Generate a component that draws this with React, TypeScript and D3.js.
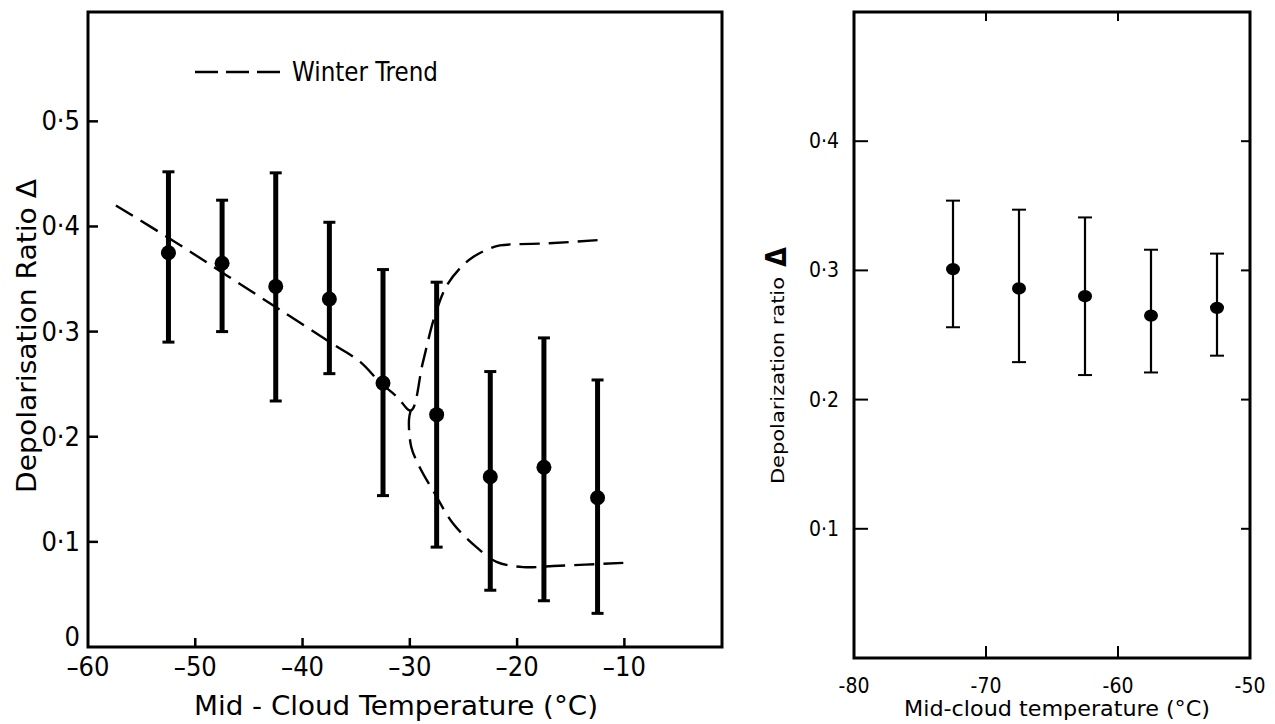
import React from 'react';
import * as d3 from 'd3';

// ---------- Left panel data ----------
const leftTemps = [-52.5, -47.5, -42.5, -37.5, -32.5, -27.5, -22.5, -17.5, -12.5];
const leftMean = [0.375, 0.365, 0.343, 0.331, 0.251, 0.221, 0.162, 0.171, 0.142];
const leftUpper = [0.452, 0.425, 0.451, 0.404, 0.359, 0.347, 0.262, 0.294, 0.254];
const leftLower = [0.290, 0.300, 0.234, 0.260, 0.144, 0.095, 0.054, 0.044, 0.032];

// Winter trend (dashed) – upper branch through the cusp
const trendUpperX = [-57.4, -52, -47, -42, -37, -34.6, -32.8, -31.2, -29.9, -28.8, -27.7, -26.6, -25.35, -24.1, -22.55, -21.6, -17, -12.5];
const trendUpperY = [0.420, 0.386, 0.353, 0.320, 0.287, 0.271, 0.252, 0.238, 0.225, 0.270, 0.314, 0.343, 0.360, 0.371, 0.379, 0.382, 0.384, 0.387];
// Winter trend – lower branch from the cusp
const trendLowerX = [-29.92, -30.08, -29.86, -29.08, -27.68, -25.97, -23.79, -21.92, -19.43, -16.63, -10.1];
const trendLowerY = [0.225, 0.216, 0.190, 0.171, 0.146, 0.1175, 0.095, 0.081, 0.076, 0.077, 0.080];

const leftXTicks = [-60, -50, -40, -30, -20, -10];
const leftYTicks = [0, 0.1, 0.2, 0.3, 0.4, 0.5];

// ---------- Right panel data ----------
const rightTemps = [-72.5, -67.5, -62.5, -57.5, -52.5];
const rightMean = [0.301, 0.286, 0.280, 0.265, 0.271];
const rightUpper = [0.354, 0.347, 0.341, 0.316, 0.313];
const rightLower = [0.256, 0.229, 0.219, 0.221, 0.234];

const rightXTicks = [-80, -70, -60, -50];
const rightYTicks = [0.1, 0.2, 0.3, 0.4];

const FONT = "'DejaVu Sans Condensed', 'DejaVu Sans', sans-serif";

const fmtDot = (v: number) => (v === 0 ? '0' : v.toFixed(1).replace('.', '\u00B7'));

export default function App() {
  // Left scales
  const lx = d3.scaleLinear().domain([-60, -0.9]).range([88, 722]);
  const ly = d3.scaleLinear().domain([0, 0.604]).range([647, 12]);
  // Right scales
  const rx = d3.scaleLinear().domain([-80, -50]).range([854, 1250]);
  const ry = d3.scaleLinear().domain([0, 0.5]).range([658, 12]);

  const line = d3
    .line<[number, number]>()
    .x((d) => lx(d[0]))
    .y((d) => ly(d[1]))
    .curve(d3.curveCatmullRom.alpha(0.5));

  const upperPts = trendUpperX.map((x, i) => [x, trendUpperY[i]] as [number, number]);
  const lowerPts = trendLowerX.map((x, i) => [x, trendLowerY[i]] as [number, number]);

  const [lx0, lx1] = lx.range();
  const [ly0, ly1] = ly.range();
  const [rx0, rx1] = rx.range();
  const [ry0, ry1] = ry.range();

  return (
    <svg
      width={1275}
      height={724}
      style={{ position: 'absolute', left: 0, top: 0, background: '#fff' }}
      fontFamily={FONT}
    >
      <rect x={0} y={0} width={1275} height={724} fill="#fff" />

      {/* ================= LEFT PANEL ================= */}
      <rect x={lx0} y={ly1} width={lx1 - lx0} height={ly0 - ly1} fill="none" stroke="#000" strokeWidth={3} />

      {/* y ticks */}
      {leftYTicks.map((t) => (
        <g key={'lyt' + t}>
          {t > 0 && <line x1={lx0} x2={lx0 + 10} y1={ly(t)} y2={ly(t)} stroke="#000" strokeWidth={2.5} />}
          <text x={80} y={t === 0 ? ly(t) - 1 : ly(t) + 9} fontSize={27} textAnchor="end" fill="#000">
            {fmtDot(t)}
          </text>
        </g>
      ))}
      {/* x ticks */}
      {leftXTicks.map((t) => (
        <g key={'lxt' + t}>
          {t > -60 && <line x1={lx(t)} x2={lx(t)} y1={ly0} y2={ly0 - 9} stroke="#000" strokeWidth={2.5} />}
          <text x={lx(t)} y={676} fontSize={27} textAnchor="middle" fill="#000">
            {'\u2013' + Math.abs(t)}
          </text>
        </g>
      ))}

      {/* axis titles */}
      <text x={396} y={715} fontSize={26} textAnchor="middle" textLength={404} lengthAdjust="spacingAndGlyphs" fill="#000">
        Mid - Cloud  Temperature (°C)
      </text>
      <text
        transform={`translate(36,336) rotate(-90)`}
        fontSize={26}
        textAnchor="middle"
        textLength={314}
        lengthAdjust="spacingAndGlyphs"
        fill="#000"
      >
        Depolarisation  Ratio  Δ
      </text>

      {/* legend */}
      <line x1={195} x2={281} y1={72} y2={72} stroke="#000" strokeWidth={2.5} strokeDasharray="23 8" />
      <text x={292} y={81} fontSize={27} textLength={146} lengthAdjust="spacingAndGlyphs" fill="#000">
        Winter  Trend
      </text>

      {/* winter trend curves */}
      <path d={line(upperPts) || ''} fill="none" stroke="#000" strokeWidth={2.4} strokeDasharray="20 9" />
      <path d={line(lowerPts) || ''} fill="none" stroke="#000" strokeWidth={2.4} strokeDasharray="20 9" />

      {/* error bars + points */}
      {leftTemps.map((t, i) => (
        <g key={'lp' + i}>
          <line x1={lx(t)} x2={lx(t)} y1={ly(leftUpper[i])} y2={ly(leftLower[i])} stroke="#000" strokeWidth={5} />
          <line x1={lx(t) - 6} x2={lx(t) + 6} y1={ly(leftUpper[i])} y2={ly(leftUpper[i])} stroke="#000" strokeWidth={3} />
          <line x1={lx(t) - 6} x2={lx(t) + 6} y1={ly(leftLower[i])} y2={ly(leftLower[i])} stroke="#000" strokeWidth={3} />
          <circle cx={lx(t)} cy={ly(leftMean[i])} r={7.5} fill="#000" />
        </g>
      ))}

      {/* ================= RIGHT PANEL ================= */}
      <rect x={rx0} y={ry1} width={rx1 - rx0} height={ry0 - ry1} fill="none" stroke="#000" strokeWidth={3} />

      {rightYTicks.map((t) => (
        <g key={'ryt' + t}>
          <line x1={rx0} x2={rx0 + 14} y1={ry(t)} y2={ry(t)} stroke="#000" strokeWidth={2} />
          <line x1={rx1} x2={rx1 - 9} y1={ry(t)} y2={ry(t)} stroke="#000" strokeWidth={2} />
          <text x={839} y={ry(t) + 7} fontSize={21} textAnchor="end" fill="#000">
            {fmtDot(t)}
          </text>
        </g>
      ))}
      {rightXTicks.map((t) => (
        <g key={'rxt' + t}>
          {t > -80 && t < -50 && (
            <>
              <line x1={rx(t)} x2={rx(t)} y1={ry0} y2={ry0 - 12} stroke="#000" strokeWidth={2} />
              <line x1={rx(t)} x2={rx(t)} y1={ry1} y2={ry1 + 9} stroke="#000" strokeWidth={2} />
            </>
          )}
          <text x={rx(t)} y={693} fontSize={21} textAnchor="middle" fill="#000">
            {'-' + Math.abs(t)}
          </text>
        </g>
      ))}

      <text x={1057} y={716} fontSize={21} textAnchor="middle" textLength={306} lengthAdjust="spacingAndGlyphs" fill="#000">
        Mid-cloud  temperature  (°C)
      </text>
      <text
        transform={`translate(784,484) rotate(-90)`}
        fontSize={17}
        textAnchor="start"
        textLength={207}
        lengthAdjust="spacingAndGlyphs"
        fill="#000"
      >
        Depolarization ratio
      </text>
      <text
        transform={`translate(786,257) rotate(-90)`}
        fontSize={28}
        textAnchor="middle"
        fontWeight="bold"
        fill="#000"
      >
        Δ
      </text>

      {rightTemps.map((t, i) => (
        <g key={'rp' + i}>
          <line x1={rx(t)} x2={rx(t)} y1={ry(rightUpper[i])} y2={ry(rightLower[i])} stroke="#000" strokeWidth={2.2} />
          <line x1={rx(t) - 7} x2={rx(t) + 7} y1={ry(rightUpper[i])} y2={ry(rightUpper[i])} stroke="#000" strokeWidth={2} />
          <line x1={rx(t) - 7} x2={rx(t) + 7} y1={ry(rightLower[i])} y2={ry(rightLower[i])} stroke="#000" strokeWidth={2} />
          <ellipse cx={rx(t)} cy={ry(rightMean[i])} rx={7} ry={6.2} fill="#000" />
        </g>
      ))}
    </svg>
  );
}
